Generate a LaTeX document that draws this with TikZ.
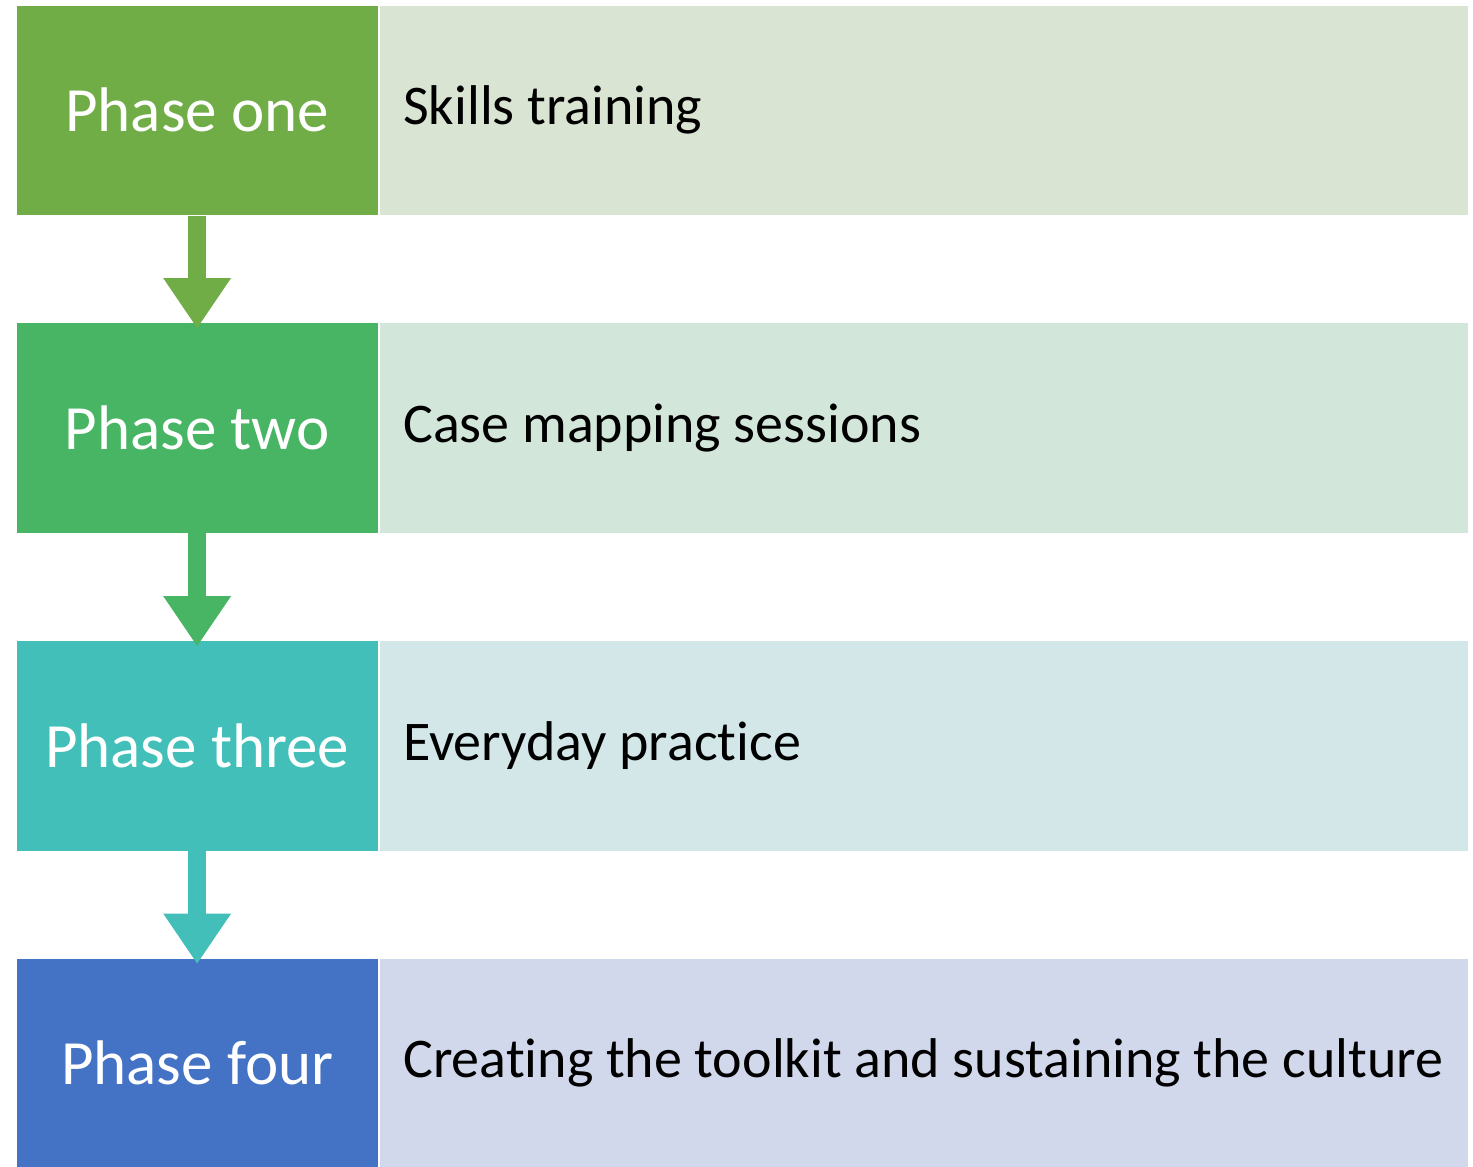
\documentclass[tikz,border=0pt]{standalone}
\usepackage{fontspec}
\setmainfont{Carlito}[Ligatures=CommonOff]
\usetikzlibrary{positioning}
\usetikzlibrary{arrows.meta}

\definecolor{ponecol}{RGB}{112,173,71}
\definecolor{ptwocol}{RGB}{71,181,99}
\definecolor{pthreecol}{RGB}{67,191,185}
\definecolor{pfourcol}{RGB}{68,114,196}
\definecolor{donecol}{RGB}{217,228,211}
\definecolor{dtwocol}{RGB}{211,230,218}
\definecolor{dthreecol}{RGB}{211,231,232}
\definecolor{dfourcol}{RGB}{210,216,235}

\begin{document}
\begin{tikzpicture}[x=1pt,y=-1pt,
    phase/.style={draw=white,line width=0.8pt,minimum width=362.5pt,minimum height=210.5pt,
        inner sep=0pt,text=white,font=\fontsize{63}{70}\selectfont,anchor=north west},
    detail/.style={draw=white,line width=0.8pt,minimum height=210.5pt,inner xsep=24pt,inner ysep=0pt,
        text width=1041pt,align=flush left,text=black,font=\fontsize{56}{62}\selectfont},
    flow/.style={line width=18pt,-{Triangle[width=68pt,length=50pt,line width=0pt]},shorten >=-6pt}]
    \useasboundingbox (0,0) rectangle (1473,1167);
    %% phases
    \node[phase,fill=ponecol] (p1) at (15.5,4.5) {Phase one};
    \node[detail,fill=donecol,right=0pt of p1] (d1) {Skills training};
    \node[phase,fill=ptwocol] (p2) at (15.5,322) {Phase two};
    \node[detail,fill=dtwocol,right=0pt of p2] (d2) {Case mapping sessions};
    \node[phase,fill=pthreecol] (p3) at (15.5,640) {Phase three};
    \node[detail,fill=dthreecol,right=0pt of p3] (d3) {Everyday practice};
    \node[phase,fill=pfourcol] (p4) at (15.5,957.5) {Phase four};
    \node[detail,fill=dfourcol,right=0pt of p4] (d4) {Creating the toolkit and sustaining the culture};
    % arrows between the phases
    \draw[flow,ponecol] (p1.south) -- (p2.north);
    \draw[flow,ptwocol] (p2.south) -- (p3.north);
    \draw[flow,pthreecol] (p3.south) -- (p4.north);
\end{tikzpicture}
\end{document}
